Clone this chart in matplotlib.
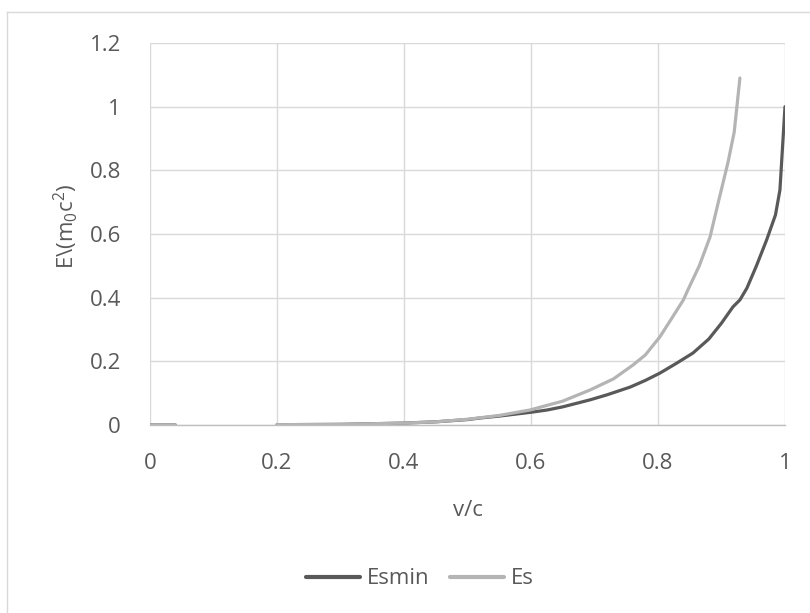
import numpy as np
import matplotlib
matplotlib.use("Agg")
import matplotlib.pyplot as plt
from matplotlib.lines import Line2D

plt.rcParams['font.family'] = ['Open Sans', 'DejaVu Sans']
plt.rcParams['mathtext.fontset'] = 'custom'
plt.rcParams['mathtext.rm'] = 'Open Sans'
plt.rcParams['mathtext.it'] = 'Open Sans'

# Data
esmin_x = [0.0, 0.02, 0.04, np.nan, 0.20, 0.30, 0.40, 0.45, 0.50, 0.52, 0.55, 0.60, 0.625, 0.65,
           0.693, 0.72, 0.756, 0.78, 0.803, 0.83, 0.855, 0.88, 0.90, 0.918, 0.929,
           0.94, 0.955, 0.971, 0.985, 0.992, 1.0]
esmin_y = [0.0, 0.0, 0.0, np.nan, 0.001, 0.002, 0.006, 0.010, 0.017, 0.022, 0.028, 0.040, 0.047, 0.057,
           0.079, 0.095, 0.119, 0.140, 0.163, 0.195, 0.226, 0.270, 0.320, 0.371, 0.393,
           0.430, 0.500, 0.581, 0.660, 0.738, 1.0]

es_x = [0.0, 0.02, 0.04, np.nan, 0.20, 0.30, 0.40, 0.45, 0.50, 0.55, 0.598, 0.65, 0.693, 0.73,
        0.761, 0.78, 0.803, 0.82, 0.84, 0.847, 0.865, 0.882, 0.895, 0.910, 0.92, 0.929]
es_y = [0.0, 0.0, 0.0, np.nan, 0.001, 0.002, 0.006, 0.010, 0.018, 0.030, 0.047, 0.075, 0.110, 0.145,
        0.189, 0.220, 0.277, 0.330, 0.393, 0.424, 0.500, 0.591, 0.700, 0.823, 0.920, 1.090]

x_ticks = [0, 0.2, 0.4, 0.6, 0.8, 1]
x_labels = ['0', '0.2', '0.4', '0.6', '0.8', '1']
y_ticks = [0, 0.2, 0.4, 0.6, 0.8, 1, 1.2]
y_labels = ['0', '0.2', '0.4', '0.6', '0.8', '1', '1.2']

text_color = '#595959'
grid_color = '#d9d9d9'
fs = 16

fig = plt.figure(figsize=(8.1, 6.13), dpi=100)
ax = fig.add_axes([150/810, 1-425/613, 635/810, 382/613])

ax.plot(esmin_x, esmin_y, color='#595959', lw=2.3, label='Esmin', solid_capstyle='round')
ax.plot(es_x, es_y, color='#b4b4b4', lw=2.3, label='Es', solid_capstyle='round')

ax.set_xlim(0, 1)
ax.set_ylim(0, 1.2)
ax.set_xticks(x_ticks)
ax.set_xticklabels(x_labels)
ax.set_yticks(y_ticks)
ax.set_yticklabels(y_labels)
ax.grid(True, color=grid_color, lw=1.0)
ax.set_axisbelow(True)
for s in ['top', 'right', 'left']:
    ax.spines[s].set_visible(False)
ax.spines['bottom'].set_color('#bfbfbf')
ax.spines['bottom'].set_linewidth(1.0)
ax.tick_params(axis='both', length=0, labelsize=fs, colors=text_color)
ax.tick_params(axis='x', pad=20.5)
ax.tick_params(axis='y', pad=21)

ax.set_xlabel('v/c', fontsize=fs, color=text_color, va='center')
ax.xaxis.set_label_coords(0.5, (425-510)/382)
ax.set_ylabel('E\\(m$_0$c$^2$)', fontsize=fs, color=text_color, va='center')
ax.yaxis.set_label_coords((66-150)/635, 0.52)

leg = ax.legend(loc='center', bbox_to_anchor=(420/810, 1-579/613), bbox_transform=fig.transFigure,
                ncol=2, frameon=False, fontsize=fs, labelcolor=text_color,
                handlelength=2.4, handletextpad=0.32, columnspacing=0.95)
for h in leg.get_lines():
    h.set_linewidth(3)

# chart outer border (cropped)
fig.add_artist(Line2D([7/810, 7/810], [0, 1-12/613], transform=fig.transFigure, color='#d9d9d9', lw=1))
fig.add_artist(Line2D([7/810, 1], [1-12/613, 1-12/613], transform=fig.transFigure, color='#d9d9d9', lw=1))

fig.savefig('out.png', dpi=100)
